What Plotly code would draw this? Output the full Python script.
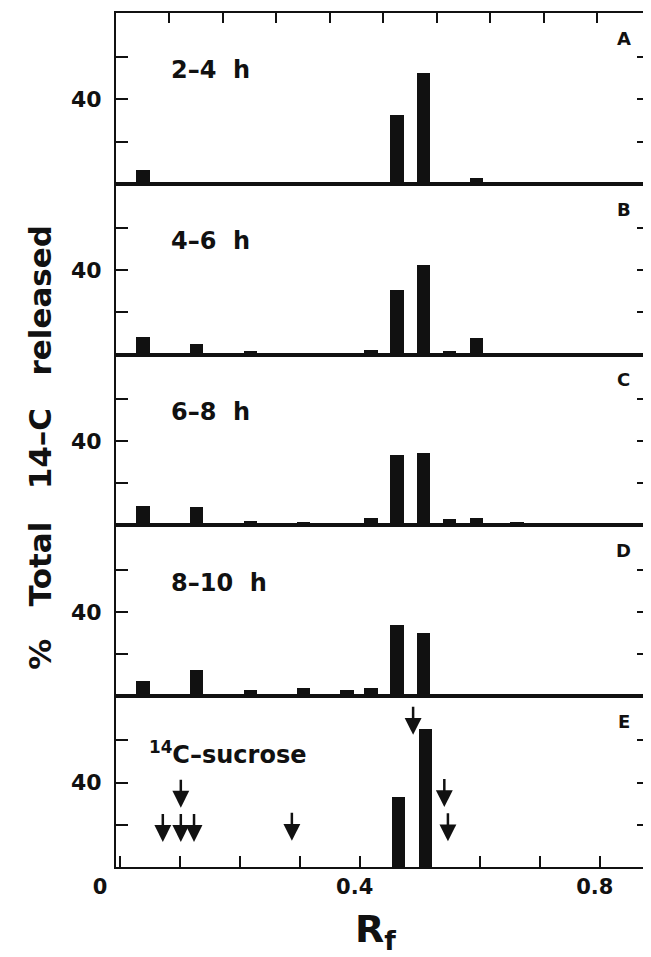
import plotly.graph_objects as go
from plotly.subplots import make_subplots

# ---------------- data ----------------
LANES_RF = [0.039, 0.128, 0.218, 0.306, 0.379, 0.419, 0.462, 0.506, 0.549, 0.594, 0.662]
PANEL_A = [6.4, 1.0, 0, 1.0, 0, 0, 32.5, 52.4, 0, 2.7, 0]
PANEL_B = [8.4, 5.3, 1.7, 0, 0, 2.3, 30.9, 42.8, 1.8, 7.9, 0]
PANEL_C = [9.4, 8.7, 2.4, 2.0, 0, 3.9, 33.5, 34.3, 3.3, 3.6, 2.0]
PANEL_D = [7.1, 12.1, 2.7, 3.5, 2.8, 3.6, 33.4, 29.9, 0, 0, 0]
SUCROSE_RF = [0.464, 0.510]
PANEL_E = [33.0, 65.5]

PANEL_TITLES = ["2–4  h", "4–6  h", "6–8  h", "8–10  h", "<sup>14</sup>C–sucrose"]
PANEL_LETTERS = ["A", "B", "C", "D", "E"]

# standard marker positions (arrows) in panel E: Rf and level of arrow tip
ARROW_RF = [0.072, 0.102, 0.102, 0.124, 0.287, 0.489, 0.541, 0.547]
ARROW_TIP = [11.9, 28.1, 11.9, 11.9, 12.4, 62.7, 28.4, 12.2]

NB = "\u00a0"
Y_TICKS = [20, 40, 60]
Y_TICK_TEXT = ["", "40", ""]
X_TICKS = [0, 0.1, 0.2, 0.3, 0.4, 0.5, 0.6, 0.7, 0.8]
X_TICK_TEXT = ["0" + NB * 4, "", "", "", "0.4", "", "", "", "0.8"]
TOP_TICKS = [0.082, 0.1715, 0.261, 0.35, 0.439, 0.528, 0.617, 0.707, 0.796]

X_RANGE = [-0.006, 0.882]
Y_RANGE = [0, 81]
BAR_WIDTH = 0.022
INK = "#111111"
FONT = "DejaVu Sans"

# ---------------- figure ----------------
fig = make_subplots(rows=5, cols=1, shared_xaxes=False, vertical_spacing=0)

panels_x = [LANES_RF, LANES_RF, LANES_RF, LANES_RF, SUCROSE_RF]
panels_y = [PANEL_A, PANEL_B, PANEL_C, PANEL_D, PANEL_E]

for i, (xs, ys) in enumerate(zip(panels_x, panels_y), start=1):
    fig.add_trace(
        go.Bar(x=xs, y=ys, width=BAR_WIDTH, marker=dict(color=INK, line=dict(width=0)),
               showlegend=False, hoverinfo="skip"),
        row=i, col=1,
    )
    fig.update_yaxes(
        range=Y_RANGE, tickmode="array", tickvals=Y_TICKS, ticktext=Y_TICK_TEXT,
        ticks="inside", ticklen=12, tickwidth=2, tickcolor=INK,
        showline=True, linewidth=2, linecolor=INK, mirror="ticks",
        showgrid=False, zeroline=False, ticklabelstandoff=8, automargin=False,
        tickfont=dict(family=FONT, size=22, color=INK, weight="bold"),
        row=i, col=1,
    )
    common_x = dict(range=X_RANGE, showline=True, linewidth=2, linecolor=INK, mirror=True,
                    showgrid=False, zeroline=False, automargin=False)
    if i < 5:
        fig.update_xaxes(ticks="", showticklabels=False, **common_x, row=i, col=1)
    else:
        fig.update_xaxes(tickmode="array", tickvals=X_TICKS, ticktext=X_TICK_TEXT,
                         ticks="inside", ticklen=11, tickwidth=2, tickcolor=INK,
                         ticklabelshift=-5,
                         tickfont=dict(family=FONT, size=21, color=INK, weight="bold"),
                         **common_x, row=i, col=1)

    xd = "x domain" if i == 1 else f"x{i} domain"
    yd = "y domain" if i == 1 else f"y{i} domain"
    fig.add_annotation(text=PANEL_TITLES[i - 1], xref=xd, yref=yd,
                       x=0.058 if i == 5 else 0.099, y=0.665,
                       xanchor="left", yanchor="middle", showarrow=False,
                       font=dict(family=FONT, size=24, color=INK, weight="bold"))
    fig.add_annotation(text=PANEL_LETTERS[i - 1], xref=xd, yref=yd,
                       x=0.953, y=0.852, xanchor="center", yanchor="middle", showarrow=False,
                       font=dict(family=FONT, size=18, color=INK, weight="bold"))

# inward ticks along the top edge of panel A
fig.add_trace(go.Scatter(x=[], y=[], xaxis="x6", yaxis="y", showlegend=False, hoverinfo="skip"))
fig.update_layout(xaxis6=dict(overlaying="x", anchor="y", side="top", range=X_RANGE,
                              tickmode="array", tickvals=TOP_TICKS, ticks="inside",
                              ticklen=10, tickwidth=2, tickcolor=INK, showticklabels=False,
                              showgrid=False, zeroline=False, showline=False, automargin=False))

# arrows in panel E
ARROW_LEN = 14
for rf, tip in zip(ARROW_RF, ARROW_TIP):
    fig.add_annotation(x=rf, y=tip, ax=rf, ay=tip + ARROW_LEN,
                       xref="x5", yref="y5", axref="x5", ayref="y5",
                       showarrow=True, arrowhead=2, arrowsize=1.35, arrowwidth=2.5,
                       arrowcolor=INK, text="", standoff=0)

# axis titles
gap = NB * 3
fig.add_annotation(text=f"%{gap}Total{gap}14–C{gap}released", xref="paper", yref="paper",
                   x=-0.1426, y=0.492, xanchor="center", yanchor="middle", textangle=-90,
                   showarrow=False, font=dict(family=FONT, size=31, color=INK, weight="bold"))
fig.add_annotation(text="R<sub>f</sub>", xref="paper", yref="paper",
                   x=0.486, y=-0.076, xanchor="center", yanchor="middle",
                   showarrow=False, font=dict(family=FONT, size=38, color=INK, weight="bold"))

# the page body adds an 8 px offset; the figure is sized to fit the 651x957 window
fig.update_layout(
    width=643, height=949,
    margin=dict(l=108, r=2, t=5, b=90),
    plot_bgcolor="white", paper_bgcolor="white",
    bargap=0, showlegend=False,
)

fig.write_html("out.html")
